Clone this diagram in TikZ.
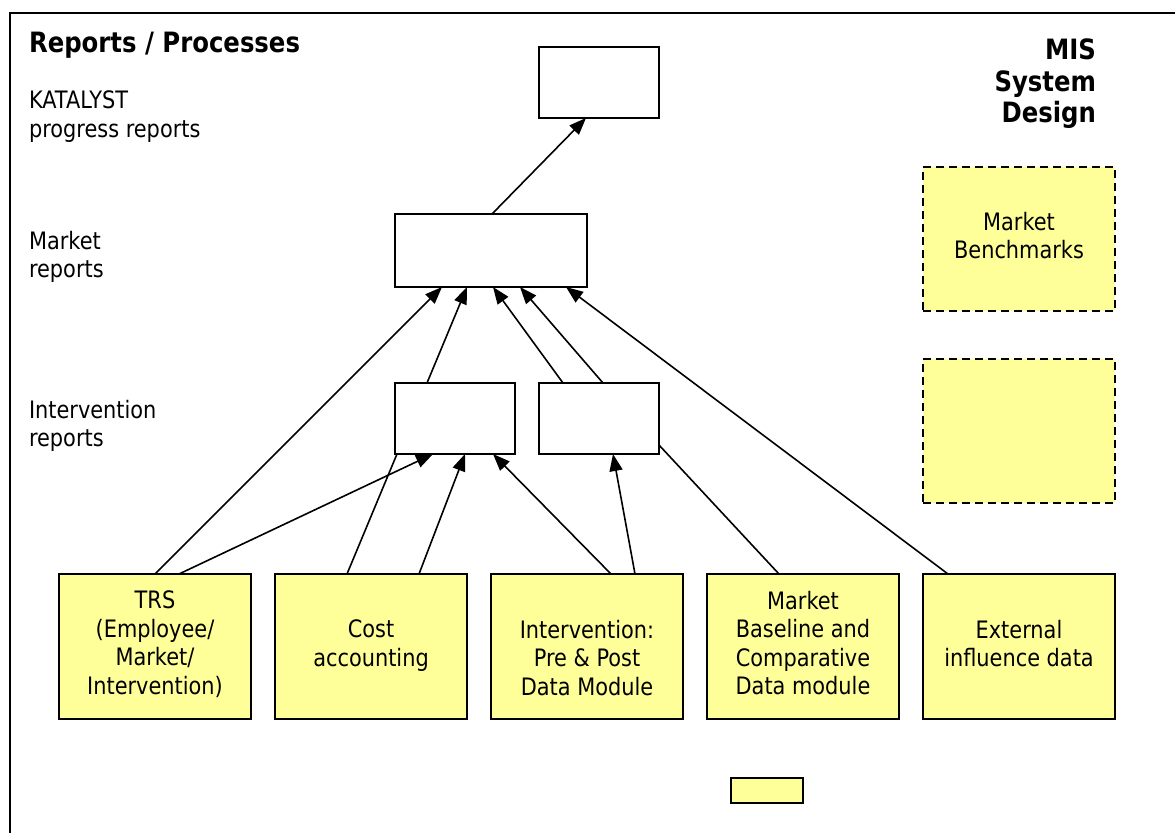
\documentclass[tikz,border=0pt]{standalone}
\usepackage{fontspec}
\setmainfont{DejaVu Sans}[FakeStretch=0.87]
\usetikzlibrary{arrows.meta,calc}
\definecolor{noteyellow}{HTML}{FFFF99}
\begin{document}
\begin{tikzpicture}[x=0.5pt,y=-0.5pt,
  every node/.style={inner sep=0pt,outer sep=0pt},
  body/.style={font=\fontsize{12}{14.25}\selectfont},
  heading/.style={font=\fontsize{14}{15.75}\selectfont\bfseries},
  reportbox/.style={draw,line width=1pt,fill=white,anchor=north west,
    minimum width=60pt,minimum height=35.5pt},
  modulebox/.style={draw,line width=1pt,fill=noteyellow,anchor=north west,
    minimum width=96pt,minimum height=72.5pt},
  plannedbox/.style={draw,line width=1pt,fill=noteyellow,anchor=north west,
    dash pattern=on 4pt off 2.5pt,minimum width=96pt,minimum height=72pt},
  conn/.style={line width=0.8pt},
  feed/.style={conn,-{Triangle[length=8.5pt,width=6.5pt]}}
]
\useasboundingbox (0,0) rectangle (1175,832);

% page frame
\draw[line width=1pt] (1200,13) -- (9.5,13) -- (9.5,860);

% headings
\node[heading,anchor=north west] (title) at (29,32) {Reports / Processes};
\node[heading,anchor=north east,align=right] (mis) at (1096,39) {MIS\\System\\Design};

% level labels
\node[body,anchor=north west,align=left] (lblkat) at (29,91) {KATALYST\\progress reports};
\node[body,anchor=north west,align=left] (lblmkt) at (29,231) {Market\\reports};
\node[body,anchor=north west,align=left] (lblint) at (29,400) {Intervention\\reports};

% report boxes
\node[reportbox] (kat) at (539,47) {};
\node[reportbox,minimum width=96pt,minimum height=36.5pt] (mkt) at (395,214) {};
\node[reportbox] (ib1) at (395,383) {};
\node[reportbox] (ib2) at (539,383) {};

% planned modules
\node[plannedbox] (bench) at (923,167) {};
\node[body,anchor=north,align=center] (benchtxt) at (1019,212) {Market\\Benchmarks};
\node[plannedbox] (spare) at (923,359) {};

% data modules
\node[modulebox] (trs) at (59,574) {};
\node[modulebox] (cost) at (275,574) {};
\node[modulebox] (pp) at (491,574) {};
\node[modulebox] (mb) at (707,574) {};
\node[modulebox] (ext) at (923,574) {};

\node[body,anchor=north,align=center] (trstxt) at (155,591)
  {TRS\\(Employee/\\Market/\\Intervention)};
\node[body,anchor=north,align=center] (costtxt) at (371,620) {Cost\\accounting};
\node[body,anchor=north,align=center] (pptxt) at (587,620)
  {Intervention:\\Pre \& Post\\Data Module};
\node[body,anchor=north,align=center] (mbtxt) at (803,591)
  {Market\\Baseline and\\Comparative\\Data module};
\node[body,anchor=north,align=center] (exttxt) at (1019,620) {External\\influence data};

% legend swatch
\node[draw,line width=1pt,fill=noteyellow,anchor=north west,
  minimum width=36pt,minimum height=12.5pt] (key) at (731,778) {};

% market -> KATALYST
\draw[feed] ($(mkt.north west)+(97,0)$) -- ($(kat.south west)+(47,0)$);

% feeds into the market report
\draw[feed] ($(trs.north west)+(96,0)$) -- ($(mkt.south west)+(47,0)$);
\draw[feed] ($(ib1.north west)+(32,0)$) -- ($(mkt.south west)+(72,0)$);
\draw[feed] ($(ib2.north west)+(24,0)$) -- ($(mkt.south west)+(98,0)$);
\draw[feed] ($(ib2.north west)+(64,0)$) -- ($(mkt.south west)+(125,0)$);
\draw[feed] ($(ext.north west)+(25,0)$) -- ($(mkt.south west)+(171,0)$);

% feeds into the intervention reports
\draw[feed] ($(trs.north west)+(120,0)$) -- ($(ib1.south west)+(38,0)$);
\draw[feed] ($(cost.north west)+(144,0)$) -- ($(ib1.south west)+(70,0)$);
\draw[conn] ($(cost.north west)+(72,0)$) -- ($(ib1.south west)+(2,0)$);
\draw[feed] ($(pp.north west)+(120,0)$) -- ($(ib1.south west)+(98,0)$);
\draw[feed] ($(pp.north west)+(144,0)$) -- ($(ib2.south west)+(74,0)$);
\draw[conn] ($(mb.north west)+(72,0)$) -- ($(ib2.south east)+(0,-9)$);
\end{tikzpicture}
\end{document}
